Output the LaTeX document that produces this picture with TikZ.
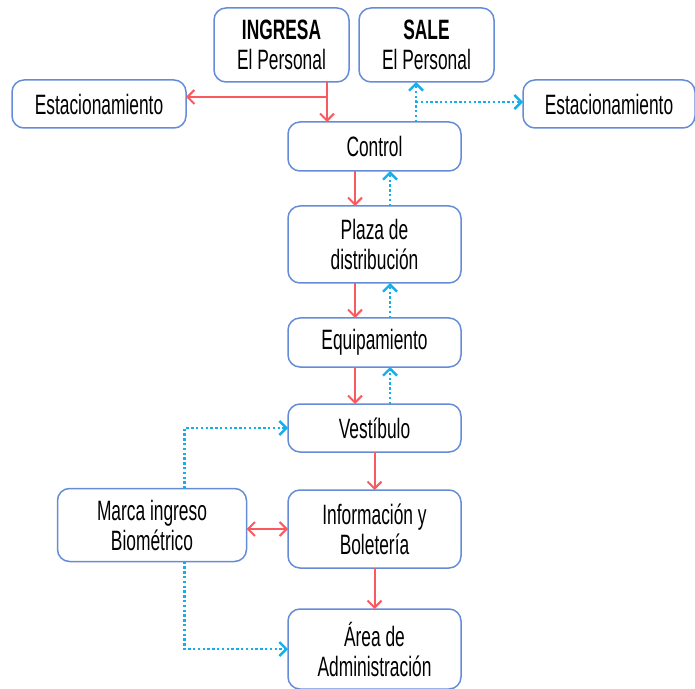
\documentclass[tikz,border=0pt]{standalone}
\usepackage{fontspec}
\setmainfont{Liberation Sans}[FakeStretch=0.62]
\usetikzlibrary{positioning,arrows.meta}
\definecolor{boxline}{RGB}{100,140,215}
\definecolor{entracol}{RGB}{250,90,95}
\definecolor{salecol}{RGB}{20,175,235}
\begin{document}
\begin{tikzpicture}[
  >={Straight Barb[length=3.5pt,width=7pt]},
  box/.style={draw=boxline, line width=0.75pt, rounded corners=6pt, align=center, inner sep=0pt, outer sep=0pt, minimum width=86.5pt, minimum height=24.5pt, font=\fontsize{14}{15}\selectfont},
  ent/.style={draw=entracol, line width=1pt, ->},
  sal/.style={draw=salecol, line width=1.2pt, dash pattern=on 1.2pt off 1.2pt, ->}
]
\useasboundingbox (0,0) rectangle (347.5pt,-344.5pt);
\node[box, minimum width=67.5pt, minimum height=37pt] (ingresa) at (140.75pt,-22.5pt) {\textbf{INGRESA}\\El Personal};
\node[box, minimum width=67.5pt, minimum height=37pt, right=5pt of ingresa] (sale) {\textbf{SALE}\\El Personal};
\node[box, minimum width=87pt, minimum height=24pt] (estacL) at (49.5pt,-52pt) {Estacionamiento};
\node[box, minimum width=86pt, minimum height=24pt] (estacR) at (304.5pt,-52pt) {Estacionamiento};
\node[box] (control) at (187.25pt,-73.25pt) {Control};
\node[box, minimum height=38.5pt, below=17.5pt of control] (plaza) {Plaza de\\distribución};
\node[box, below=17.5pt of plaza] (equipo) {Equipamiento};
\node[box, minimum height=24pt, below=18.5pt of equipo] (vestibulo) {Vestíbulo};
\node[box, minimum height=39pt, below=19pt of vestibulo] (info) {Información y\\Boletería};
\node[box, minimum height=40pt, below=20.5pt of info] (admin) {Área de\\Administración};
\node[box, minimum width=94.5pt, minimum height=36.5pt, left=20.75pt of info, yshift=2pt] (marca) {Marca ingreso\\Biométrico};
\coordinate (bajada) at (163.5pt,-48.5pt);
\coordinate (subida) at (208pt,-51pt);
\draw[ent] (ingresa.south -| bajada) -- (bajada |- control.north);
\draw[ent] (bajada) -- (bajada -| estacL.east);
\draw[sal] (subida |- control.north) -- (subida |- sale.south);
\draw[sal] (subida) -- (subida -| estacR.west);
\draw[ent] ([xshift=-9.75pt]control.south) -- ([xshift=-9.75pt]plaza.north);
\draw[sal] ([xshift=7.75pt]plaza.north) -- ([xshift=7.75pt]control.south);
\draw[ent] ([xshift=-9.75pt]plaza.south) -- ([xshift=-9.75pt]equipo.north);
\draw[sal] ([xshift=7.75pt]equipo.north) -- ([xshift=7.75pt]plaza.south);
\draw[ent] ([xshift=-9.75pt]equipo.south) -- ([xshift=-9.75pt]vestibulo.north);
\draw[sal] ([xshift=7.75pt]vestibulo.north) -- ([xshift=7.75pt]equipo.south);
\draw[ent] (vestibulo) -- (info);
\draw[ent] (info) -- (admin);
\draw[ent, <->] (marca.east |- info.west) -- (info.west);
\draw[sal] ([xshift=16.25pt]marca.north) |- (vestibulo.west);
\draw[sal] ([xshift=16.25pt]marca.south) |- (admin.west);
\end{tikzpicture}
\end{document}
